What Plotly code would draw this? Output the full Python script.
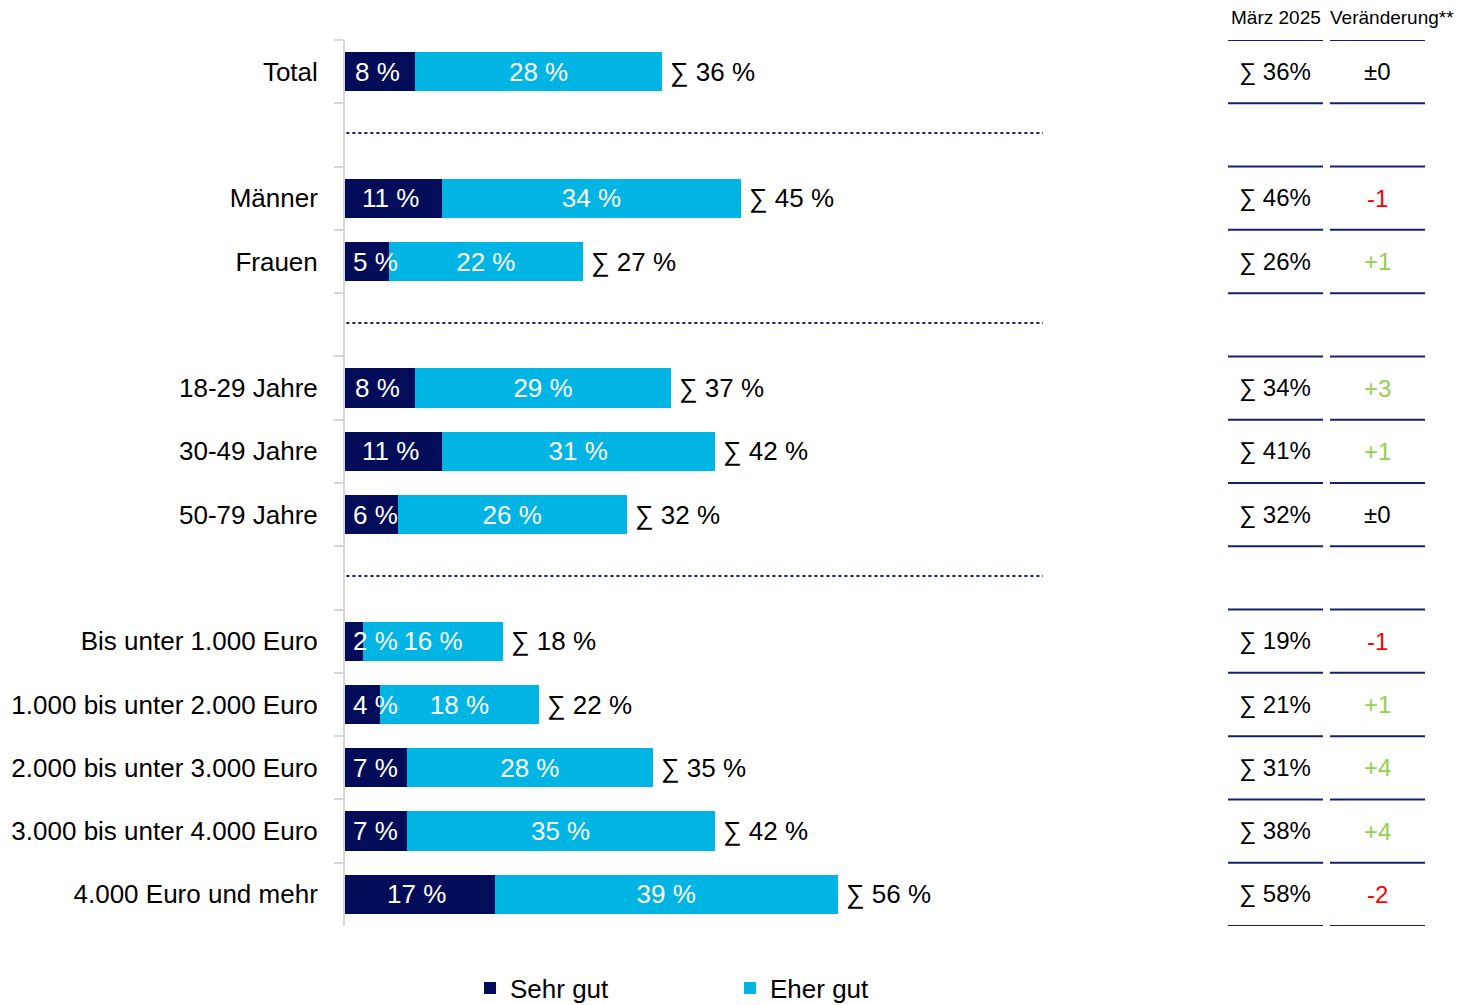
import plotly.graph_objects as go

# Survey groups (rows are separated by an empty spacer row between groups)
groups = [
    ["Total"],
    ["Männer", "Frauen"],
    ["18-29 Jahre", "30-49 Jahre", "50-79 Jahre"],
    ["Bis unter 1.000 Euro", "1.000 bis unter 2.000 Euro", "2.000 bis unter 3.000 Euro",
     "3.000 bis unter 4.000 Euro", "4.000 Euro und mehr"],
]
sehr_gut = [8, 11, 5, 8, 11, 6, 2, 4, 7, 7, 17]
eher_gut = [28, 34, 22, 29, 31, 26, 16, 18, 28, 35, 39]
maerz_2025 = [36, 46, 26, 34, 41, 32, 19, 21, 31, 38, 58]
veraenderung = [0, -1, 1, 3, 1, 0, -1, 1, 4, 4, -2]
header_maerz = "März 2025"
header_veraenderung = "Veränderung**"

NAVY = "#020c58"
CYAN = "#00b5e4"
LINE_NAVY = "#16206a"
GREY = "#d6d6d6"
FONT = "Liberation Sans, Arial, sans-serif"

W, H = 1460, 1005
PL, PR, PT, PB = 345, 1043, 40, 926
PX_PER_PCT = 8.8


def px_x(px):
    return (px - PL) / (PR - PL)


def px_y(py):
    return (PB - py) / (PB - PT)


# Build row list with spacer rows between groups
rows, labels, spacers = [], [], []
for gi, g in enumerate(groups):
    if gi > 0:
        name = " " * gi
        spacers.append(len(rows))
        rows.append(name)
    for lab in g:
        rows.append(lab)
        labels.append(lab)

totals = [a + b for a, b in zip(sehr_gut, eher_gut)]

fig = go.Figure()
fig.add_trace(go.Bar(
    y=labels, x=sehr_gut, orientation="h", name="Sehr gut",
    marker=dict(color=NAVY, line=dict(width=0)), hoverinfo="skip",
))
fig.add_trace(go.Bar(
    y=labels, x=eher_gut, orientation="h", name="Eher gut",
    marker=dict(color=CYAN, line=dict(width=0)),
    text=[f"{v} %" for v in eher_gut], textposition="inside",
    insidetextanchor="middle", constraintext="none",
    textfont=dict(family=FONT, size=26, color="white"), hoverinfo="skip",
))

ann = []
# labels inside the dark segment, kept clear of the axis for narrow bars
for lab, v in zip(labels, sehr_gut):
    shift = max(-3.0, 30 - v * PX_PER_PCT / 2)
    ann.append(dict(x=v / 2, y=lab, xref="x", yref="y", text=f"{v} %",
                    showarrow=False, xanchor="center", xshift=shift,
                    font=dict(family=FONT, size=26, color="white")))
# sum labels right of each bar
for lab, t in zip(labels, totals):
    ann.append(dict(x=t, y=lab, xref="x", yref="y", text=f"∑ {t} %",
                    showarrow=False, xanchor="left", xshift=6,
                    font=dict(family=FONT, size=26, color="black")))

# side table
C1_L, C1_R, C2_L, C2_R = 1228, 1323, 1330, 1425
c1 = (C1_L + C1_R) / 2
c2 = (C2_L + C2_R) / 2
for lab, m, d in zip(labels, maerz_2025, veraenderung):
    ann.append(dict(x=px_x(c1 - 1), y=lab, xref="paper", yref="y", text=f"∑ {m}%",
                    showarrow=False, xanchor="center",
                    font=dict(family=FONT, size=24, color="black")))
    if d > 0:
        txt, col = f"+{d}", "#92d050"
    elif d < 0:
        txt, col = f"-{abs(d)}", "#ff0000"
    else:
        txt, col = "±0", "black"
    ann.append(dict(x=px_x(c2), y=lab, xref="paper", yref="y", text=txt,
                    showarrow=False, xanchor="center",
                    font=dict(family=FONT, size=24, color=col)))

ann.append(dict(x=px_x(c1), y=px_y(18), xref="paper", yref="paper", text=header_maerz,
                showarrow=False, xanchor="center", yanchor="middle",
                font=dict(family=FONT, size=19, color="black")))
ann.append(dict(x=px_x(C2_L - 2), y=px_y(18), xref="paper", yref="paper",
                text=header_veraenderung, showarrow=False, xanchor="left", yanchor="middle",
                font=dict(family=FONT, size=19, color="black")))

shapes = []
for i in range(len(rows) + 1):
    yb = i - 0.5
    for x0, x1 in ((C1_L, C1_R), (C2_L, C2_R)):
        shapes.append(dict(type="line", xref="paper", yref="y", x0=px_x(x0), x1=px_x(x1),
                           y0=yb, y1=yb, line=dict(color=LINE_NAVY, width=2)))
for s in spacers:
    shapes.append(dict(type="line", xref="paper", yref="y", x0=0.002, x1=1, y0=s - 0.03,
                       y1=s - 0.03, line=dict(color=LINE_NAVY, width=2, dash="dot")))

fig.update_layout(
    width=W, height=H,
    margin=dict(l=PL, r=W - PR, t=PT, b=H - PB, pad=0),
    barmode="stack", bargap=0.38,
    plot_bgcolor="white", paper_bgcolor="white",
    font=dict(family=FONT, size=26, color="black"),
    showlegend=True,
    legend=dict(orientation="h", traceorder="normal",
                xref="container", x=470 / W, xanchor="left",
                yref="container", y=(H - 988) / H, yanchor="middle",
                entrywidth=215, entrywidthmode="pixels",
                font=dict(family=FONT, size=26, color="black"), bgcolor="rgba(0,0,0,0)"),
    annotations=ann, shapes=shapes,
)
fig.update_xaxes(range=[0, (PR - PL) / PX_PER_PCT], showgrid=False, zeroline=False,
                 showticklabels=False, ticks="", showline=False)
fig.update_yaxes(type="category", categoryorder="array", categoryarray=rows,
                 range=[len(rows) - 0.5, -0.5], tickson="boundaries", ticks="outside",
                 ticklen=9, tickwidth=2, tickcolor=GREY, showline=True, linecolor=GREY,
                 linewidth=2, showgrid=False, zeroline=False,
                 tickfont=dict(family=FONT, size=26, color="black"), ticklabelstandoff=20)

fig.write_html("out.html")
